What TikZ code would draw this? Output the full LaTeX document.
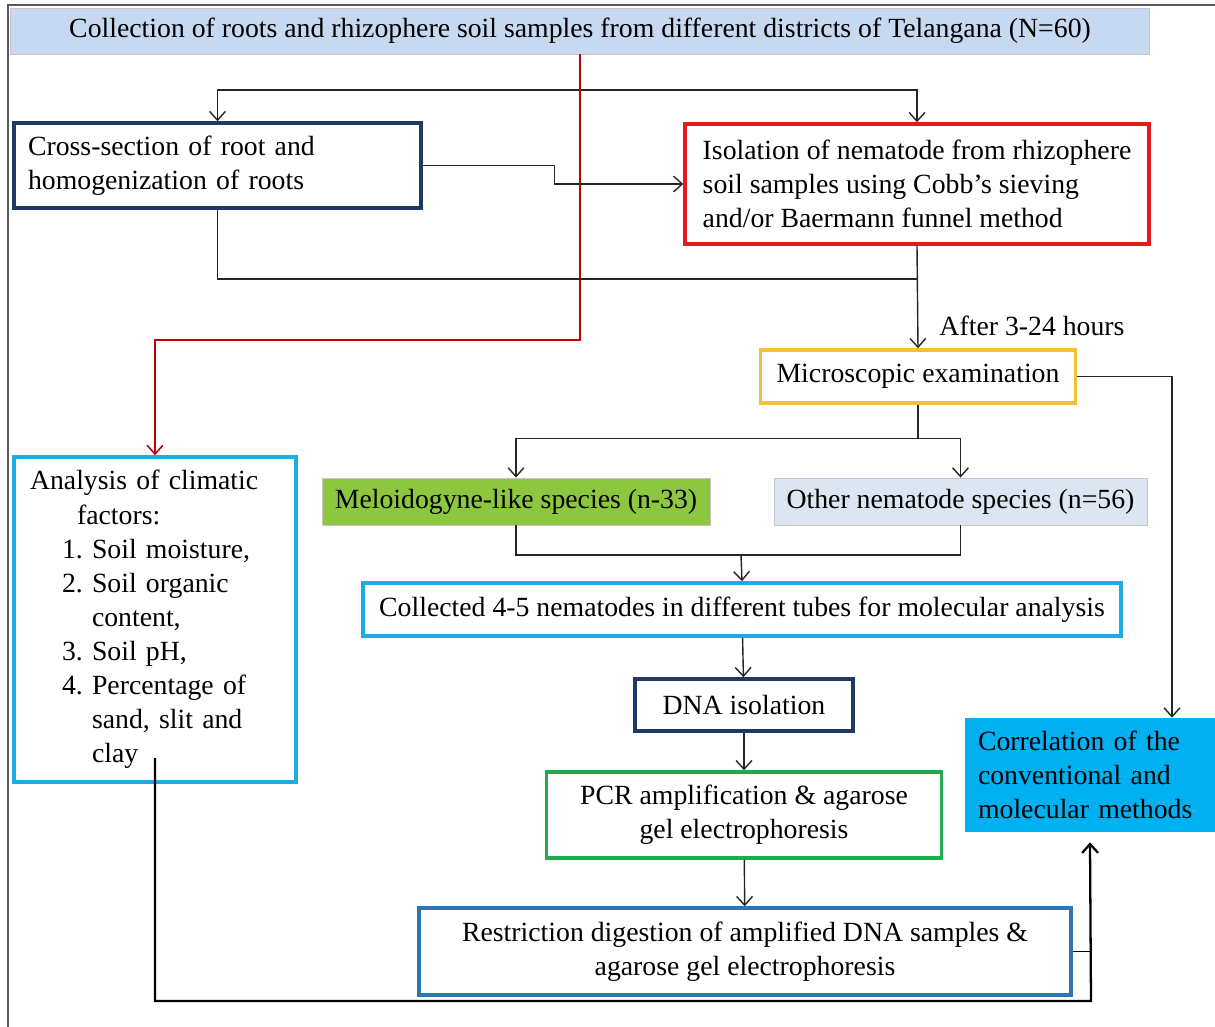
\documentclass[tikz,border=0pt]{standalone}
\usepackage{fontspec}
\setmainfont{Liberation Serif}
\usetikzlibrary{arrows.meta}
\definecolor{titleblue}{HTML}{C6D9F1}
\definecolor{navy}{HTML}{1F3864}
\definecolor{isored}{HTML}{E31B1B}
\definecolor{gold}{HTML}{F2C037}
\definecolor{skyline}{HTML}{1EAAE2}
\definecolor{meloid}{HTML}{8DC63F}
\definecolor{othergray}{HTML}{DCE6F2}
\definecolor{pcrgreen}{HTML}{23AA4E}
\definecolor{restrblue}{HTML}{2E75B6}
\definecolor{corrblue}{HTML}{00B0F0}
\definecolor{darkred}{HTML}{C00000}
\begin{document}
\begin{tikzpicture}[x=0.02cm,y=-0.02cm,
  >={Straight Barb[length=5pt,width=9pt]},
  every node/.style={font=\fontsize{15.8}{19.4}\selectfont},
  box/.style={draw=#1,line width=2pt,fill=white,inner sep=0pt,align=center},
  flat/.style={draw=gray!45,line width=0.5pt,fill=#1,inner sep=0pt,align=center},
  conn/.style={line width=0.8pt,black!85}]
\useasboundingbox (0,0) rectangle (1215,1027);
\draw[gray!70!black,line width=0.6pt] (8,1027) -- (8,5) -- (1215,5);
% boxes
\node[flat=titleblue,minimum width=22.8cm,minimum height=0.92cm] (title) at (580,31) {Collection of roots and rhizophere soil samples from different districts of Telangana (N=60)};
\node[box=navy,minimum height=1.7cm,inner xsep=0.28cm,text width=7.58cm,align=left] (cross) at (217.5,165.5) {Cross-section of root and\\homogenization of roots};
\node[box=isored,minimum width=9.28cm,minimum height=2.4cm,align=left] (iso) at (917,184) {Isolation of nematode from rhizophere\\soil samples using Cobb’s sieving\\and/or Baermann funnel method};
\node[box=gold,minimum width=6.3cm,minimum height=1.06cm] (micro) at (918,376.5) {Microscopic examination};
\node (after) at (1032,326) {After 3-24 hours};
\node[box=skyline,minimum height=6.5cm,inner xsep=0.32cm,text width=5.0cm,align=left] (clim) at (155,619.5) {Analysis of climatic\\
  \hspace*{0.94cm}factors:\\
  \hspace*{0.64cm}\makebox[0.6cm][l]{1.}Soil moisture,\\
  \hspace*{0.64cm}\makebox[0.6cm][l]{2.}Soil organic\\
  \hspace*{1.24cm}content,\\
  \hspace*{0.64cm}\makebox[0.6cm][l]{3.}Soil pH,\\
  \hspace*{0.64cm}\makebox[0.6cm][l]{4.}Percentage of\\
  \hspace*{1.24cm}sand, slit and\\
  \hspace*{1.24cm}clay};
\node[flat=meloid,minimum width=7.76cm,minimum height=0.94cm] (melo) at (516,501.5) {Meloidogyne-like species (n-33)};
\node[flat=othergray,minimum width=7.46cm,minimum height=0.94cm] (other) at (960.5,501.5) {Other nematode species (n=56)};
\node[box=skyline,minimum width=15.16cm,minimum height=1.06cm] (coll) at (742,609.5) {Collected 4-5 nematodes in different tubes for molecular analysis};
\node[box=navy,minimum width=4.36cm,minimum height=1.04cm] (dna) at (744,705) {DNA isolation};
\node[box=pcrgreen,minimum width=7.9cm,minimum height=1.72cm] (pcr) at (744,815) {PCR amplification \& agarose\\gel electrophoresis};
\node[box=restrblue,minimum width=13.04cm,minimum height=1.74cm] (restr) at (745,951.5) {Restriction digestion of amplified DNA samples \&\\agarose gel electrophoresis};
\node[fill=corrblue,minimum height=2.28cm,inner xsep=0.26cm,text width=4.48cm,align=left] (corr) at (1090,775) {Correlation of the\\conventional and\\molecular methods};
% connectors
\coordinate (fork) at (580,90);
\coordinate (redbend) at (580,340);
\coordinate (join) at (918,279);
\coordinate (merge) at (741,555);
\coordinate (clayend) at (155,758);
\coordinate (loopbend) at (1091,1001);
\draw[conn,->] (fork) -| (cross);
\draw[conn,->] (fork) -| (iso);
\draw[line width=0.9pt,darkred,->] (title.south -| redbend) -- (redbend) -| (clim);
\draw[conn,->] (cross.east) -- ++(132,0) |- (iso.west);
\draw[conn] (cross.south) |- (join);
\draw[conn,->] (iso.south) -- (micro.north);
\draw[conn,->] (micro.east) -| ([xshift=1.64cm]corr.north);
\draw[conn,->] (micro.south) -- ++(0,34) -| (melo.north);
\draw[conn,->] (micro.south) -- ++(0,34) -| (other.north);
\draw[conn] (melo.south) |- (merge) -| (other.south);
\draw[conn,->] (merge) -- (coll.north);
\draw[conn,->] (coll) -- (dna);
\draw[conn,->] (dna) -- (pcr);
\draw[conn,->] (pcr) -- (restr);
\draw[line width=1.3pt,->] (clayend) |- (loopbend) -- ([yshift=-0.2cm]corr.south);
\draw[line width=1.1pt] (restr.east) -- (restr.east -| loopbend);
\end{tikzpicture}
\end{document}
